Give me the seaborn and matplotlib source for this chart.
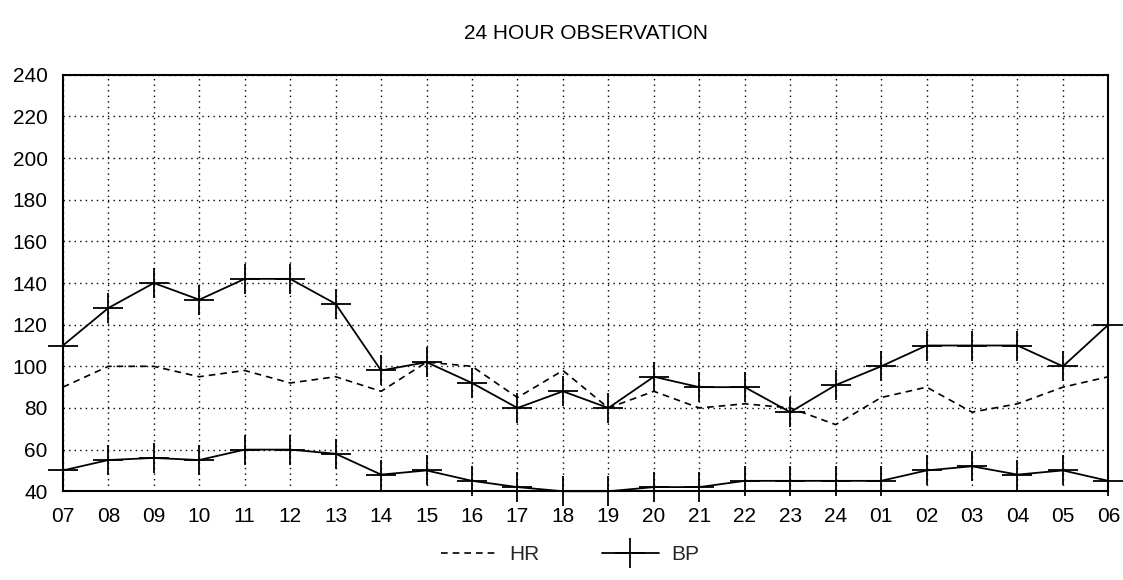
import matplotlib
matplotlib.use("Agg")
import matplotlib.pyplot as plt
import numpy as np
import pandas as pd
import seaborn as sns

hours = ["07", "08", "09", "10", "11", "12", "13", "14", "15", "16", "17", "18",
         "19", "20", "21", "22", "23", "24", "01", "02", "03", "04", "05", "06"]
hr = [90, 100, 100, 95, 98, 92, 95, 88, 102, 100, 85, 98,
      80, 88, 80, 82, 80, 72, 85, 90, 78, 82, 90, 95]
bp_sys = [110, 128, 140, 132, 142, 142, 130, 98, 102, 92, 80, 88,
          80, 95, 90, 90, 78, 91, 100, 110, 110, 110, 100, 120]
bp_dia = [50, 55, 56, 55, 60, 60, 58, 48, 50, 45, 42, 40,
          40, 42, 42, 45, 45, 45, 45, 50, 52, 48, 50, 45]
y_ticks = list(range(40, 241, 20))

sns.set_theme(style="white")
plt.rcParams["font.family"] = ["Liberation Sans", "DejaVu Sans"]

pos = np.arange(len(hours))
df = pd.DataFrame({"pos": pos, "HR": hr, "sys": bp_sys, "dia": bp_dia})

fig = plt.figure(figsize=(11.23, 5.80), dpi=100)
ax = fig.add_axes([0.056, 0.153, 0.931, 0.718])

# BP drawn as two solid lines with wide + markers, HR dashed
mk = dict(color="black", linewidth=1.3, marker="+", markersize=22,
          markeredgewidth=1.3, markeredgecolor="black", clip_on=False)
sns.lineplot(data=df, x="pos", y="HR", ax=ax, color="black", linewidth=1.2,
             linestyle=(0, (4, 3)), label="HR")
sns.lineplot(data=df, x="pos", y="sys", ax=ax, label="BP", **mk)
sns.lineplot(data=df, x="pos", y="dia", ax=ax, label="_nolegend_", **mk)

ax.set_xlim(pos[0], pos[-1])
ax.set_ylim(40, 240)
ax.set_xticks(pos)
ax.set_xticklabels(hours)
ax.set_yticks(y_ticks)
ax.set_xlabel("")
ax.set_ylabel("")
ax.grid(True, color="black", linestyle=(0, (1, 3)), linewidth=1.0)
ax.tick_params(axis="both", direction="out", length=7, width=1.2,
               color="black", labelsize=15, labelcolor="black", pad=4)
for s in ax.spines.values():
    s.set_color("black")
    s.set_linewidth(1.5)

ax.set_title("24 HOUR OBSERVATION", fontsize=15, color="black", pad=26)
ax.legend(loc="upper center", bbox_to_anchor=(0.485, -0.085), ncol=2,
          frameon=False, fontsize=15, handlelength=2.7, handletextpad=0.6,
          columnspacing=3.0)

fig.savefig("out.png", dpi=100)
